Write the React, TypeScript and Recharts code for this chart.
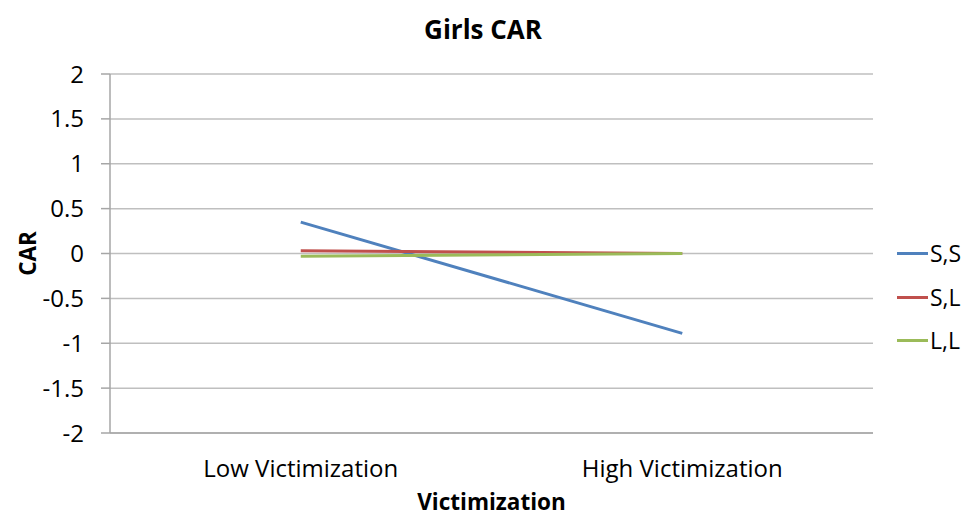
import { LineChart, Line, XAxis, YAxis, CartesianGrid } from 'recharts';

const categories = ['Low Victimization', 'High Victimization'];
const ssValues = [0.35, -0.89];
const slValues = [0.03, 0.0];
const llValues = [-0.03, 0.0];
const yTicks = [-2, -1.5, -1, -0.5, 0, 0.5, 1, 1.5, 2];

const seriesList = [
  { key: 'S,S', color: '#4F81BD' },
  { key: 'S,L', color: '#C0504D' },
  { key: 'L,L', color: '#9BBB59' },
];

const chartData = categories.map((name, i) => ({
  name,
  'S,S': ssValues[i],
  'S,L': slValues[i],
  'L,L': llValues[i],
}));

const FONT = '"Open Sans", Lato, sans-serif';
const legendTops = [253, 297, 340];

export default function App() {
  return (
    <div style={{ position: 'absolute', top: 0, left: 0, width: 966, height: 519, background: '#fff', fontFamily: FONT }}>
      <div
        style={{
          position: 'absolute',
          top: 12,
          left: 0,
          width: 966,
          textAlign: 'center',
          fontSize: 26,
          fontWeight: 700,
          color: '#000',
          lineHeight: '34px',
        }}
      >
        Girls CAR
      </div>
      <LineChart width={966} height={519} data={chartData} margin={{ top: 74, right: 93, bottom: 0, left: 0 }}>
        <CartesianGrid vertical={false} stroke="#BFBFBF" strokeWidth={1.5} />
        <XAxis
          dataKey="name"
          scale="band"
          height={86}
          tickLine={false}
          axisLine={{ stroke: '#A6A6A6', strokeWidth: 1.5 }}
          tick={{ fill: '#000', fontSize: 24, fontFamily: FONT }}
          tickMargin={21}
          label={{
            value: 'Victimization',
            position: 'insideBottom',
            offset: 9,
            style: { fill: '#000', fontSize: 22.5, fontWeight: 700, fontFamily: FONT },
          }}
        />
        <YAxis
          width={110}
          domain={[-2, 2]}
          ticks={yTicks}
          interval={0}
          tickSize={9}
          tickMargin={17}
          tickLine={{ stroke: '#A6A6A6', strokeWidth: 1.5 }}
          axisLine={{ stroke: '#A6A6A6', strokeWidth: 1.5 }}
          tick={{ fill: '#000', fontSize: 24, fontFamily: FONT }}
          label={{
            value: 'CAR',
            angle: -90,
            position: 'insideLeft',
            offset: 28,
            style: { textAnchor: 'middle', fill: '#000', fontSize: 22.5, fontWeight: 700, fontFamily: FONT },
          }}
        />
        {seriesList.map((s) => (
          <Line
            key={s.key}
            dataKey={s.key}
            stroke={s.color}
            strokeWidth={3}
            dot={false}
            activeDot={false}
            isAnimationActive={false}
          />
        ))}
      </LineChart>
      {seriesList.map((s, i) => (
        <div
          key={s.key}
          style={{
            position: 'absolute',
            left: 897,
            top: legendTops[i] - 15,
            height: 30,
            display: 'flex',
            alignItems: 'center',
            fontSize: 23,
            color: '#000',
          }}
        >
          <span style={{ display: 'inline-block', width: 31, height: 3, background: s.color, marginRight: 2 }} />
          {s.key}
        </div>
      ))}
    </div>
  );
}
